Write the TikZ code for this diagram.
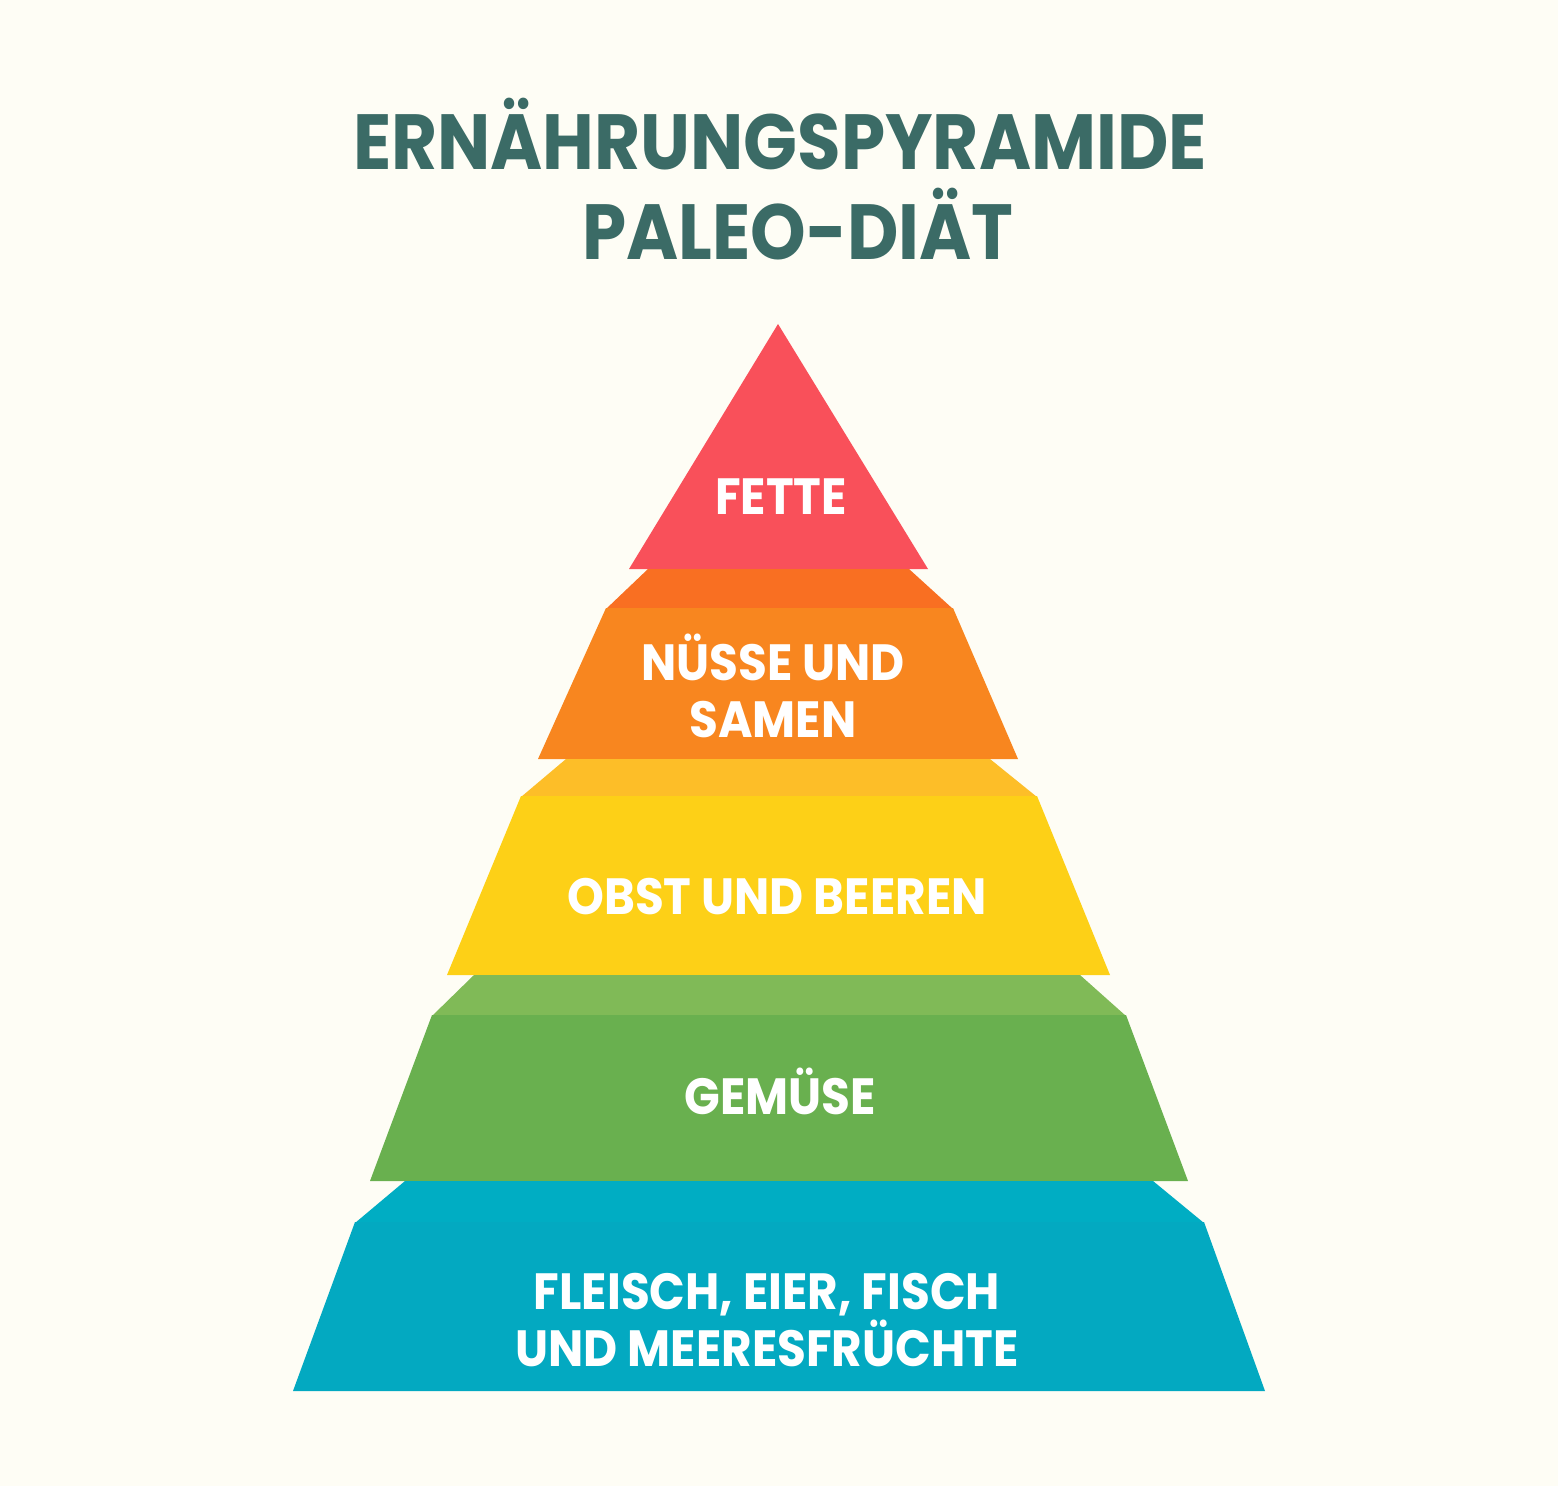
\documentclass[tikz,border=0pt]{standalone}
\usepackage{fontspec}
\setmainfont{Poppins}
\newfontfamily\titlefont[FakeStretch=0.905]{Poppins}
\newfontfamily\labelfont[FakeStretch=0.92]{Poppins}
\usepackage{tikz}
\usetikzlibrary{positioning}

\begin{document}
\begin{tikzpicture}[x=0.02cm, y=-0.02cm,
    tierlabel/.style={text=white, font=\labelfont\bfseries\fontsize{29}{32.3}\selectfont, align=center, inner sep=0pt},
    heading/.style={text=titlecolor, font=\titlefont\bfseries\fontsize{44.5}{51}\selectfont, align=center, inner sep=0pt}]
    % Define colors
    \definecolor{bgcolor}{HTML}{FEFDF5}
    \definecolor{titlecolor}{HTML}{3B6B66}
    \definecolor{fatcolor}{HTML}{F9505A}
    \definecolor{nuttop}{HTML}{F96F22}
    \definecolor{nutcolor}{HTML}{F8861F}
    \definecolor{fruittop}{HTML}{FDBE28}
    \definecolor{fruitcolor}{HTML}{FDD017}
    \definecolor{vegtop}{HTML}{80BA57}
    \definecolor{vegcolor}{HTML}{69B04F}
    \definecolor{meattop}{HTML}{00ADC3}
    \definecolor{meatcolor}{HTML}{03A9C1}

    % Background
    \fill[bgcolor] (0, 0) rectangle (1558, 1486);
    \useasboundingbox (0, 0) rectangle (1558, 1486);

    % Title
    \node[heading, anchor=base] (title) at (780, 170) {ERNÄHRUNGSPYRAMIDE};
    \node[heading, anchor=base] (subtitle) at (798, 260) {PALEO-DIÄT};

    % Tier 5: Fette
    \fill[fatcolor] (778, 324) -- (928, 569) -- (629, 569) -- cycle;
    \node[tierlabel] (fette) at (781, 497) {FETTE};

    % Tier 4: Nuesse und Samen
    \fill[nuttop] (648, 569) -- (909, 569) -- (953, 609) -- (606, 609) -- cycle;
    \fill[nutcolor] (606, 608) -- (953, 608) -- (1018, 759) -- (538, 759) -- cycle;
    \node[tierlabel] (nuesse) at (773, 686) {NÜSSE UND\\SAMEN};

    % Tier 3: Obst und Beeren
    \fill[fruittop] (566, 759) -- (990, 759) -- (1037, 797) -- (521, 797) -- cycle;
    \fill[fruitcolor] (521, 796) -- (1037, 796) -- (1110, 975) -- (447, 975) -- cycle;
    \node[tierlabel] (obst) at (777, 897) {OBST UND BEEREN};

    % Tier 2: Gemuese
    \fill[vegtop] (474, 975) -- (1080, 975) -- (1126, 1016) -- (432, 1016) -- cycle;
    \fill[vegcolor] (432, 1015) -- (1126, 1015) -- (1188, 1181) -- (370, 1181) -- cycle;
    \node[tierlabel] (gemuese) at (780, 1091) {GEMÜSE};

    % Tier 1: Fleisch, Eier, Fisch und Meeresfruechte
    \fill[meattop] (405, 1181) -- (1153, 1181) -- (1204, 1223) -- (355, 1223) -- cycle;
    \fill[meatcolor] (355, 1222) -- (1204, 1222) -- (1265, 1391) -- (293, 1391) -- cycle;
    \node[tierlabel] (fleisch) at (767, 1320) {FLEISCH, EIER, FISCH\\UND MEERESFRÜCHTE};
\end{tikzpicture}
\end{document}
